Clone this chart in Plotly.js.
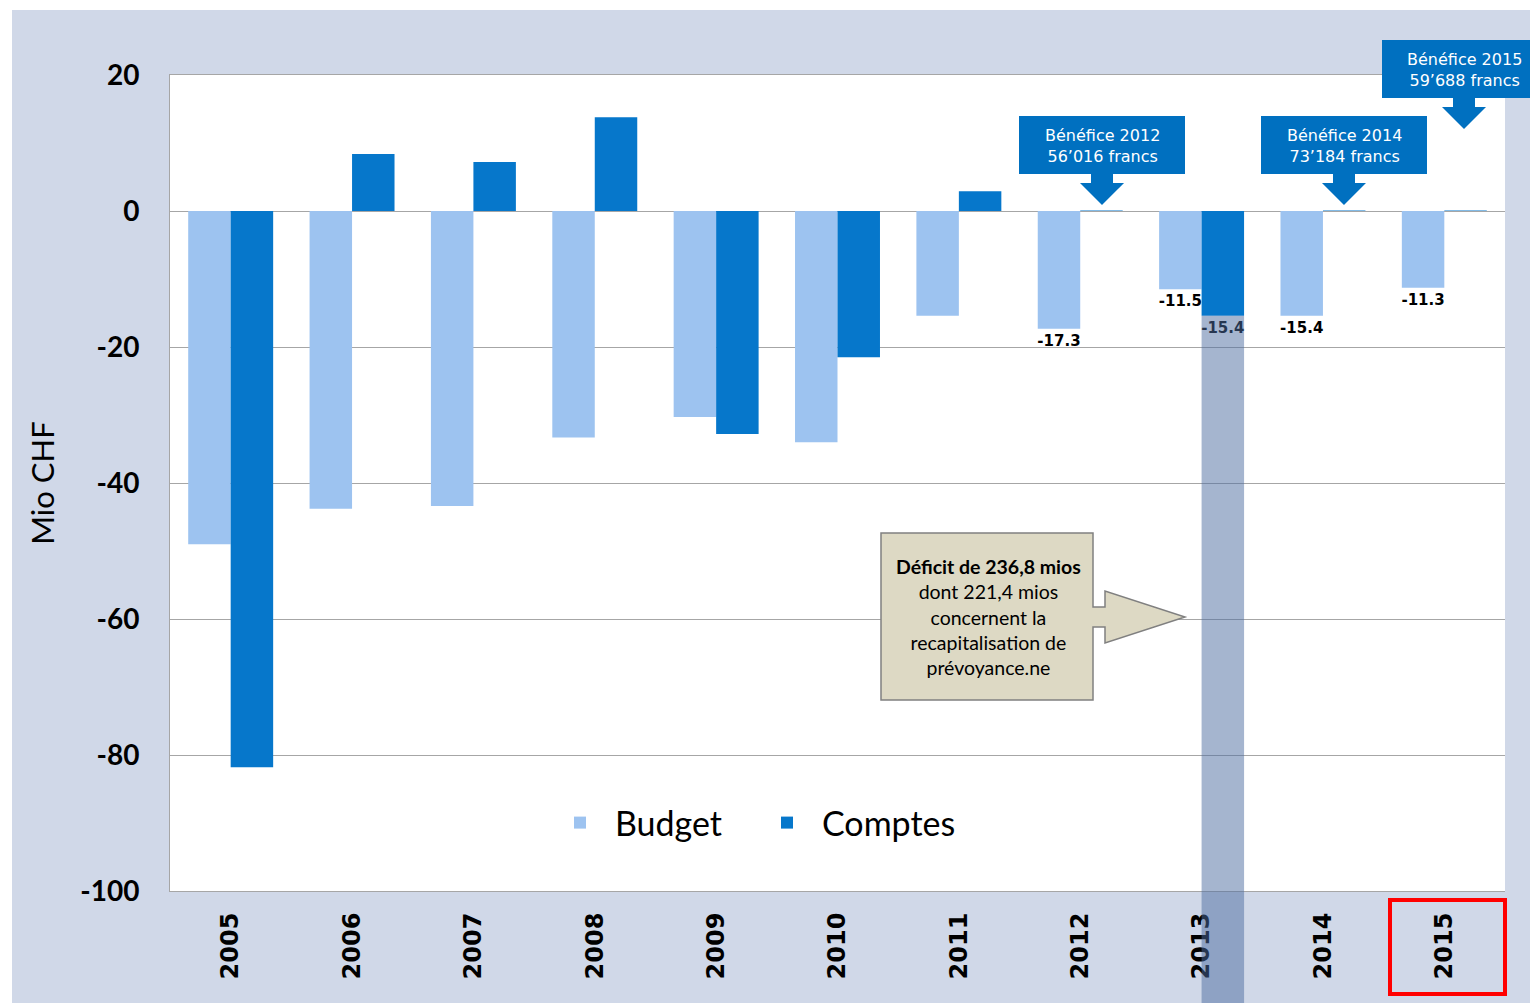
<!DOCTYPE html>
<html>
<head>
<meta charset="utf-8">
<script src="https://cdn.plot.ly/plotly-3.0.1.min.js"></script>
<style>
  html, body { margin: 0; padding: 0; background: #ffffff; }
  #chart { position: absolute; left: 12px; top: 10px; width: 1518px; height: 993px; }
</style>
</head>
<body>
<div id="chart"></div>
<script>
// ---- data (Mio CHF) ----
const categories = ['2005','2006','2007','2008','2009','2010','2011','2012','2013','2014','2015'];
const budget  = [-49.0, -43.8, -43.4, -33.3, -30.3, -34.0, -15.4, -17.3, -11.5, -15.4, -11.3];
const comptes = [-81.8, 8.4, 7.2, 13.8, -32.8, -21.5, 2.9, 0.056, -15.4, 0.073, 0.060];
const budgetLabels  = ['', '', '', '', '', '', '', '-17.3', '-11.5', '-15.4', '-11.3'];
const comptesLabels = ['', '', '', '', '', '', '', '', '-15.4', '', ''];
const yTicks = [20, 0, -20, -40, -60, -80, -100];
const seriesNames = ['Budget', 'Comptes'];
const beneficeNotes = [
  {year: '2012', amount: "56’016 francs"},
  {year: '2014', amount: "73’184 francs"},
  {year: '2015', amount: "59’688 francs"}
];
const deficitNote = '<b>Déficit de 236,8 mios</b><br>dont 221,4 mios<br>concernent la<br>recapitalisation de<br>prévoyance.ne';

// ---- layout geometry helpers (image pixels -> paper fractions) ----
const OX = 12, OY = 10, ML = 158, MR = 25, MT = 65, MB = 112, W = 1518, H = 993;
const PW = W - ML - MR, PH = H - MT - MB;
const px = X => (X - OX - ML) / PW;
const py = Y => 1 - (Y - OY - MT) / PH;
const pathOf = pts => 'M' + pts.map(p => px(p[0]).toFixed(5) + ',' + py(p[1]).toFixed(5)).join('L') + 'Z';

const yMin = -100, yMax = 20;
const idx2013 = categories.indexOf('2013');

const traces = [
  {
    type: 'bar', name: seriesNames[0], x: categories, y: budget, legend: 'legend',
    marker: {color: '#9DC3F0'},
    text: budgetLabels, textposition: 'outside', cliponaxis: false, constraintext: 'none',
    textfont: {family: 'DejaVu Sans', size: 15, color: '#000000', weight: 'bold'}
  },
  {
    type: 'bar', name: seriesNames[1], x: categories, y: comptes, legend: 'legend2',
    marker: {color: '#0677CB'},
    text: comptesLabels, textposition: 'outside', cliponaxis: false, constraintext: 'none',
    textfont: {family: 'DejaVu Sans', size: 15, color: '#000000', weight: 'bold'}
  }
];

function boxArrow(x0, x1, y0, y1, cx, shaftHalf, headHalf, headTop, tipY) {
  return [[x0,y0],[x1,y0],[x1,y1],[cx+shaftHalf,y1],[cx+shaftHalf,headTop],[cx+headHalf,headTop],
          [cx,tipY],[cx-headHalf,headTop],[cx-shaftHalf,headTop],[cx-shaftHalf,y1],[x0,y1]];
}

const boxes = [
  {pts: boxArrow(1019, 1185, 116, 174, 1102, 11, 22, 183, 205), tx: 1102, ty: 146},
  {pts: boxArrow(1261, 1427, 116, 174, 1344, 11, 22, 183, 205), tx: 1344, ty: 146},
  {pts: boxArrow(1382, 1546, 40, 98, 1464, 11, 22, 107, 129), tx: 1464, ty: 70}
];

const shapes = [];
const annotations = [];

boxes.forEach((b, i) => {
  shapes.push({type: 'path', xref: 'paper', yref: 'paper', path: pathOf(b.pts),
               fillcolor: '#0070C0', line: {width: 0}, layer: 'above'});
  annotations.push({xref: 'paper', yref: 'paper', x: px(b.tx), y: py(b.ty),
    xanchor: 'center', yanchor: 'middle', showarrow: false, align: 'center',
    text: 'Bénéfice ' + beneficeNotes[i].year + '<br>' + beneficeNotes[i].amount,
    font: {family: 'DejaVu Sans', size: 16, color: '#ffffff'}});
});

// deficit callout
shapes.push({type: 'path', xref: 'paper', yref: 'paper', layer: 'above',
  path: pathOf([[881,533],[1093,533],[1093,607],[1105,607],[1105,591],[1185,617],[1105,643],[1105,627],[1093,627],[1093,700],[881,700]]),
  fillcolor: '#DDD9C4', line: {color: '#808080', width: 1.5}});
annotations.push({xref: 'paper', yref: 'paper', x: px(988), y: py(617), xanchor: 'center', yanchor: 'middle',
  showarrow: false, align: 'center', text: deficitNote,
  font: {family: 'Lato', size: 19.5, color: '#000000'}});

// shaded column under 2013 comptes bar (value beyond scale)
shapes.push({type: 'rect', xref: 'x', yref: 'paper', layer: 'above',
  x0: idx2013, x1: idx2013 + 0.35,
  y0: py(1003), y1: (comptes[idx2013] - yMin) / (yMax - yMin),
  fillcolor: 'rgb(75,107,160)', opacity: 0.5, line: {width: 0}});

// red highlight box around 2015
shapes.push({type: 'rect', xref: 'paper', yref: 'paper', layer: 'above',
  x0: px(1390), x1: px(1505), y0: py(994), y1: py(900),
  fillcolor: 'rgba(0,0,0,0)', line: {color: '#FF0000', width: 4}});

const legendBase = {orientation: 'h', xanchor: 'left', yanchor: 'middle', y: py(823),
  bgcolor: 'rgba(0,0,0,0)', font: {family: 'Lato', size: 34, color: '#000000'}, itemwidth: 60};

const layout = {
  width: W, height: H,
  margin: {l: ML, r: MR, t: MT, b: MB},
  paper_bgcolor: '#D0D8E8',
  plot_bgcolor: '#ffffff',
  barmode: 'group', bargap: 0.3, bargroupgap: 0,
  showlegend: true,
  legend: Object.assign({}, legendBase, {x: px(545)}),
  legend2: Object.assign({}, legendBase, {x: px(752)}),
  hovermode: false,
  xaxis: {
    type: 'category', tickangle: -90, ticks: '', showgrid: false,
    showline: true, linecolor: '#A6A6A6', linewidth: 1, mirror: true,
    ticklabelstandoff: 11,
    tickfont: {family: 'DejaVu Sans', size: 24, color: '#000000', weight: 'bold'}
  },
  yaxis: {
    range: [yMin, yMax], tickvals: yTicks, ticktext: yTicks.map(String),
    ticks: '', showgrid: true, gridcolor: '#A6A6A6', gridwidth: 1,
    zeroline: true, zerolinecolor: '#A6A6A6', zerolinewidth: 1,
    showline: true, linecolor: '#A6A6A6', linewidth: 1,
    ticklabelstandoff: 24,
    tickfont: {family: 'Lato', size: 28, color: '#000000', weight: 'bold'},
    title: {text: 'Mio CHF', standoff: 16, font: {family: 'Lato', size: 31, color: '#000000'}}
  },
  shapes: shapes,
  annotations: annotations
};

Plotly.newPlot('chart', traces, layout, {displayModeBar: false, staticPlot: true});
</script>
</body>
</html>
